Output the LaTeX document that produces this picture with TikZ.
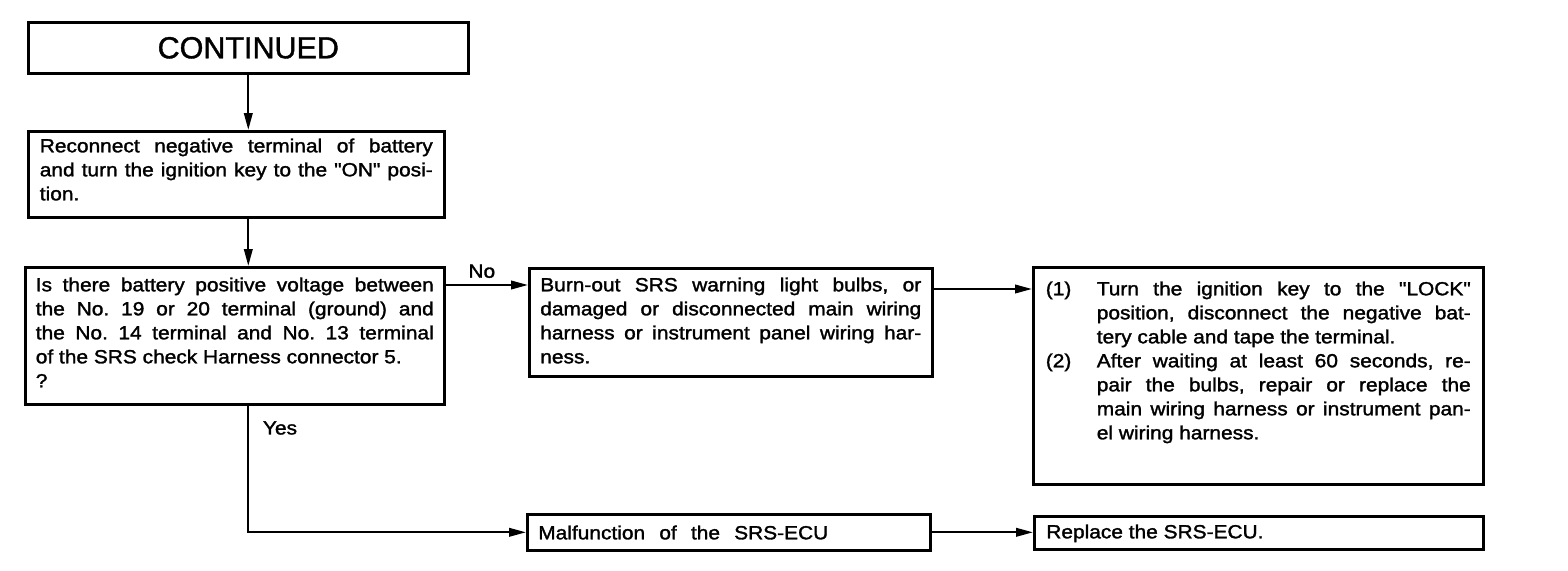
\documentclass[tikz,border=0pt]{standalone}
\usepackage{fontspec}
\setmainfont{Liberation Sans}
\newfontfamily\bodyfont[FakeStretch=1.1,FakeBold=1.6]{Liberation Sans}
\newfontfamily\headfont[FakeBold=1.2]{Liberation Sans}
\usetikzlibrary{arrows.meta}

\newcommand\bxtext[4]{\begin{minipage}[t][#2][t]{#1}\bodyfont\fontsize{19}{24}\selectfont\frenchspacing\tolerance=10000 \hyphenpenalty=10000 \rule{0pt}{#3}#4\end{minipage}}

\tikzset{
  bx/.style={draw, line width=2.6pt, inner xsep=#1, inner ysep=0pt, anchor=north west},
  arr/.style={line width=2.2pt, -{Triangle[length=17pt,width=8.5pt]}},
  lbl/.style={font=\bodyfont\fontsize{19}{24}\selectfont, inner sep=0pt}
}

\begin{document}
\begin{tikzpicture}[x=1pt,y=1pt]
\useasboundingbox (0,0) rectangle (1568,-570);

\node[draw, line width=2.6pt, anchor=north west, minimum width=440pt, minimum height=51pt, inner sep=0pt,
      font=\headfont\fontsize{30.5}{36}\selectfont] (c1) at (27,-21) {CONTINUED};

\node[bx=11.5pt] (b2) at (27,-130)
  {\bxtext{393pt}{86pt}{21pt}{Reconnect negative terminal of battery\linebreak
   and turn the ignition key to the "ON" posi-\linebreak tion.}};

\node[bx=10.5pt] (b3) at (24,-266)
  {\bxtext{398pt}{137pt}{24pt}{Is there battery positive voltage between\linebreak
   the No. 19 or 20 terminal (ground) and\linebreak
   the No. 14 terminal and No. 13 terminal\linebreak
   of the SRS check Harness connector 5.\newline ?}};

\node[bx=11pt] (b4) at (528,-267)
  {\bxtext{381pt}{108pt}{23pt}{Burn-out SRS warning light bulbs, or\linebreak
   damaged or disconnected main wiring\linebreak
   harness or instrument panel wiring har-\linebreak ness.}};

\node[bx=12.5pt] (b5) at (1032,-266)
  {\bxtext{425pt}{217pt}{28pt}{\hangindent=51pt\hangafter=1 \makebox[51pt][l]{(1)}Turn the ignition key to the "LOCK"\linebreak
   position, disconnect the negative bat-\linebreak tery cable and tape the terminal.\par
   \hangindent=51pt\hangafter=1 \makebox[51pt][l]{(2)}After waiting at least 60 seconds, re-\linebreak
   pair the bulbs, repair or replace the\linebreak
   main wiring harness or instrument pan-\linebreak el wiring harness.}};

\node[bx=11pt] (b6) at (526,-513)
  {\bxtext{381pt}{36pt}{25pt}{\makebox[290pt][s]{Malfunction of the SRS-ECU}}};

\node[bx=12pt] (b7) at (1033,-515)
  {\bxtext{425pt}{33pt}{22pt}{Replace the SRS-ECU.}};

\draw[arr] (c1.south) -- (c1.south |- b2.north);
\draw[arr] (c1.south |- b2.south) -- (c1.south |- b3.north);
\draw[arr] ([yshift=-19pt]b3.north east) -- ([yshift=-19pt]b3.north east -| b4.west)
  node[lbl, midway, above=6pt, xshift=-5pt] (no) {No};
\draw[arr] ([yshift=-22pt]b4.north east) -- ([yshift=-22pt]b4.north east -| b5.west);
\draw[arr] (c1.south |- b3.south) |- (b6.west);
\node[lbl] (yes) at (280,-428) {Yes};
\draw[arr] (b6.east) -- (b6.east -| b7.west);
\end{tikzpicture}
\end{document}
